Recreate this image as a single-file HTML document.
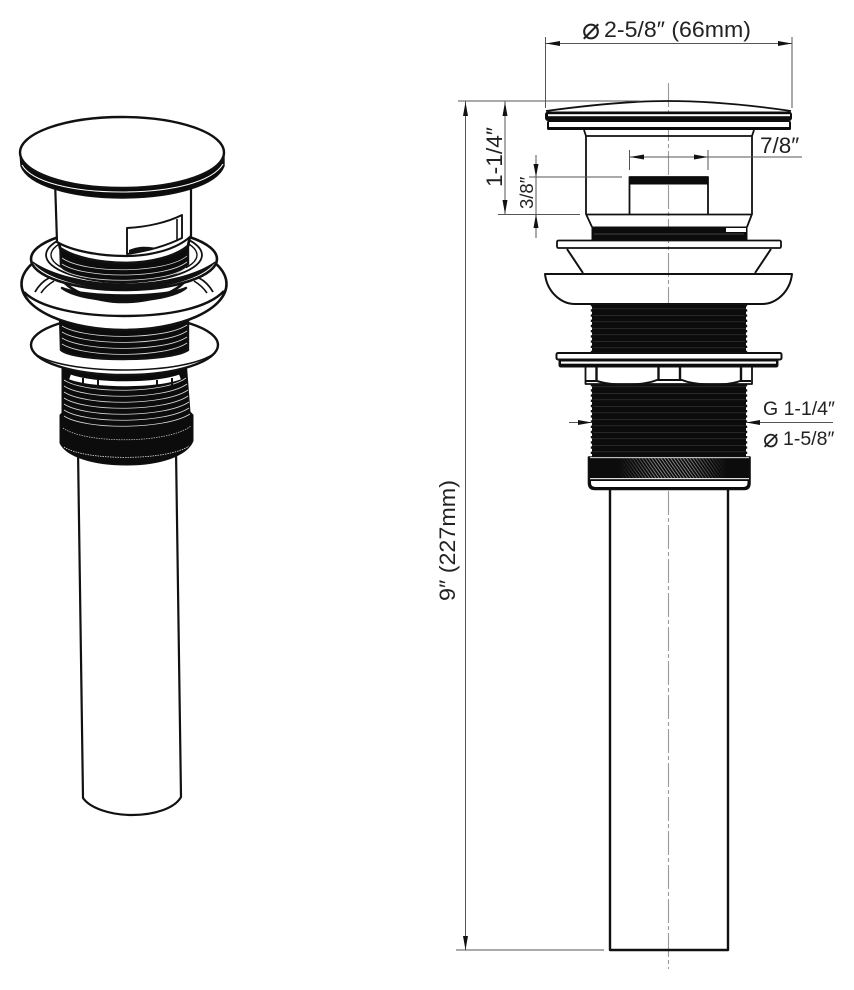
<!DOCTYPE html>
<html><head><meta charset="utf-8"><style>
html,body{margin:0;padding:0;background:#fff}
svg{display:block}
text{font-family:"Liberation Sans","DejaVu Sans",sans-serif;fill:#222}
</style></head><body>
<svg width="854" height="990" viewBox="0 0 854 990" xmlns="http://www.w3.org/2000/svg">
<defs>
<pattern id="thr" width="6" height="6.5" patternUnits="userSpaceOnUse"><rect width="6" height="6.5" fill="#0c0c0c"/><rect y="3" width="6" height=".6" fill="#3a3a3a"/></pattern>
<pattern id="kn" width="2.6" height="2.6" patternUnits="userSpaceOnUse" patternTransform="rotate(-35)"><rect width="2.6" height="2.6" fill="#0c0c0c"/><rect width=".9" height="2.6" fill="#8a8a8a"/></pattern>
<linearGradient id="kg" x1="0" x2="1" y1="0" y2="0"><stop offset="0" stop-color="#0c0c0c"/><stop offset=".18" stop-color="#0c0c0c"/><stop offset=".42" stop-color="#0c0c0c" stop-opacity="0"/><stop offset=".62" stop-color="#0c0c0c" stop-opacity="0"/><stop offset=".86" stop-color="#0c0c0c"/></linearGradient>
</defs>

<!-- LEFT ISOMETRIC -->
<g fill="#fff" stroke="#111" stroke-width="2.4" stroke-linejoin="round">
<path d="M78 450 L83 798 C90 808 110 815 132 815 C155 815 175 808 181 797 L176 450Z" stroke-width="2.2"/>
<path d="M62 360 V413 L60 415 V443 C66 456 92 465 126 465 C160 465 187 456 193 441 V415 L190 412 L186 360Z" fill="#0c0c0c" stroke-width="1"/>
<g fill="none" stroke="#d8d8d8" stroke-width=".8">
<path d="M64 380C85 394 165 394 186 378"/><path d="M64 386C85 400 165 400 187 384"/><path d="M64 392C85 406 165 406 188 390"/><path d="M64 398C85 412 165 412 188 396"/><path d="M64 404C85 418 165 418 189 402"/><path d="M64 410C85 424 165 424 189 408"/>
<path d="M64 416C85 430 165 430 190 414"/>
<path d="M63 428C85 444 168 444 191 426" stroke="#bbb" stroke-dasharray="1.5 1"/>
<path d="M64 447C85 461 168 461 189 446" stroke="#ddd" stroke-dasharray="1.5 1"/>
</g>
<path d="M70 377 C95 386 155 386 180 377" fill="none" stroke="#fff" stroke-width="5"/>
<path d="M83 378V385M98 380V387M157 380V387M172 378V385" stroke-width="2" fill="none"/>
<ellipse cx="124.500" cy="345" rx="93.500" ry="30"/>
<path d="M34 353 C48 364 85 370 124 370 C165 370 200 364 215 353" fill="none" stroke-width="1.600"/>
<path d="M60 315 L61 350 C75 362 170 362 188 350 L188 315Z" fill="#0c0c0c"/>
<g fill="none" stroke="#d8d8d8" stroke-width=".8"><path d="M62 326C85 340 165 340 187 325"/><path d="M62 332C85 346 165 346 187 331"/><path d="M62 338C85 352 165 352 187 337"/><path d="M62 344C85 358 165 358 187 343"/></g>
<ellipse cx="124" cy="284" rx="102.500" ry="46" stroke-width="2.600"/>
<path d="M24 292 C40 308 80 316 124 316 C170 316 208 308 224 291" fill="none" stroke-width="2.400"/>
<path d="M35 292 C39 285 43 281 49 278M213 292 C209 285 205 281 199 278" fill="none" stroke-width="1.800"/>
<path d="M41 293 C45 287 49 284 54 281M207 293 C203 287 199 284 194 281" fill="none" stroke-width="1.600"/>
<path d="M57 270 C62 290 95 302 124 302 C155 302 186 290 191 270Z" stroke-width="2.600"/>
<path d="M62 288C85 305 165 305 186 288 C165 298 85 298 62 288Z" fill="#111"/>
<ellipse cx="124" cy="259" rx="93" ry="31" stroke-width="2.600"/>
<path d="M33 262 C45 278 85 289 124 289 C165 289 203 278 215 262 C198 274 165 284 124 284 C85 284 50 274 33 262Z" fill="#111" stroke-width="1"/>
<ellipse cx="124" cy="255" rx="78" ry="27" stroke-width="1.800"/>
<ellipse cx="124" cy="255" rx="73" ry="24" fill="none" stroke-width="1.400"/>
<path d="M60 238 L61 266 C80 288 168 288 188 264 L188 238Z" fill="#0c0c0c"/>
<g fill="none" stroke="#d8d8d8" stroke-width=".8"><path d="M62 258C85 274 165 274 187 256"/><path d="M62 264C85 279 165 279 187 262"/><path d="M63 270C85 284 165 284 186 268"/></g>
<path d="M58 238 L60 248 C75 258 100 263 126 263 C150 263 175 257 188 246 L190 236Z" stroke-width="2.800"/>
<path d="M55 180 L57 242 C72 251 100 256 125 256 C150 256 176 250 191 236 L191 180Z" stroke-width="2.200"/>
<path d="M127 228 C148 227 168 222 182 215 V238 C168 245 148 251 127 254Z" stroke-width="1.900"/>
<path d="M177 219 V240" fill="none" stroke-width="1.600"/>
<path d="M129 250 C140 245 150 247 158 248 C148 251 138 253 129 254Z" fill="#111" stroke="none"/>
<path d="M20 153 L21 166 C28 185 70 198 122 198 C175 198 217 185 224 166 L224 153Z" fill="#0c0c0c" stroke-width="1.400"/>
<path d="M22 165 C32 182 72 192 122 192 C172 192 212 182 223 164" fill="none" stroke="#fff" stroke-width="1.100"/>
<ellipse cx="122" cy="152.500" rx="102" ry="35.500" stroke-width="2.400"/>
</g>

<!-- centre line -->
<path d="M668.500 83 V969" stroke="#999" stroke-width="1.100" stroke-dasharray="24 3 4 3" fill="none"/>

<!-- RIGHT ELEVATION -->
<g fill="none" stroke="#111" stroke-width="2" stroke-linejoin="round">
<path d="M610 489 V950 H728 V489" stroke-width="2.400"/>
<rect x="592" y="384" width="154" height="73" fill="url(#thr)" stroke="none"/>
<path d="M592 384 V457M746 384V457" stroke-dasharray="2.400 2.800" stroke-width="2.400"/>
<path d="M588.500 457 H750 V483 Q750 489.500 744 489.500 H595 Q588.500 489.500 588.500 483Z" fill="#0c0c0c" stroke-width="1.600"/>
<rect x="610" y="458" width="118" height="20" fill="url(#kn)" stroke="none"/>
<rect x="590" y="458" width="159" height="20" fill="url(#kg)" stroke="none"/>
<rect x="590" y="457" width="159" height="1.200" fill="#bbb" stroke="none"/>
<rect x="590" y="478" width="159" height="1.200" fill="#ddd" stroke="none"/>
<path d="M591 481 H747.500 V483 Q747.500 487 743 487 H596 Q591 487 591 483Z" fill="#fff" stroke="none"/>
<path d="M585.500 367 V384 H752 V367" fill="#fff" stroke-width="1.800"/>
<path d="M596.500 367 V382 M658.500 367 V381 M680 367 V381 M741 367 V382" stroke-width="2.400"/>
<path d="M586 381H597C612 386 642 386 657 380H682C697 386 727 386 740 381H751" stroke-width="2"/>
<rect x="592" y="304" width="154" height="50" fill="url(#thr)" stroke="none"/>
<path d="M592 304 V353M746 304V353" stroke-dasharray="2.400 2.800" stroke-width="2.400"/>
<path d="M559 359 H778 V365 Q778 367 776 367 H561 Q559 367 559 365Z" fill="#0c0c0c" stroke-width="1"/>
<rect x="561" y="361.500" width="215" height="2.200" fill="#fff" stroke="none"/>
<rect x="556.500" y="353" width="225" height="6.500" rx="1.500" fill="#fff" stroke-width="2"/>
<path d="M545 274 H792 C790 292 776 304 762 304 H575 C561 304 547 292 545 274Z" stroke-width="2"/>
<path d="M567 249 L583 273 M771 249 L755 273"/>
<path d="M592 227 H747 V240 H592Z" fill="#0c0c0c" stroke-width="1"/>
<path d="M726 228H746V232H726Z" fill="#fff" stroke="none"/>
<path d="M594 234H744" stroke="#555" stroke-width=".7"/>
<rect x="557" y="240.500" width="224" height="7.500" rx="1.500" stroke-width="1.800"/>
<path d="M586 136 V214 L592 227 M752 136 V214 L747 227" stroke-width="1.800"/>
<path d="M586 214.500H752" stroke-width="1.800"/>
<path d="M584 130 L586 136 H752 L754 130" stroke-width="1.800"/>
<path d="M629.500 214 V177 H708 V214" stroke-width="1.800"/>
<rect x="629" y="177" width="79.500" height="7.500" fill="#0c0c0c" stroke="none"/>
<path d="M546 111 C590 105 630 101 668 101 C710 101 750 105 791 111" stroke-width="1.800"/>
<rect x="545" y="111.500" width="247" height="9.500" rx="3" fill="#0c0c0c" stroke="none"/>
<rect x="548" y="114.200" width="242" height="2" fill="#fff" stroke="none"/>
<rect x="547" y="121" width="244" height="9" rx="1.500" fill="#0c0c0c" stroke="none"/>
<rect x="549" y="122" width="240" height="5" fill="#fff" stroke="none"/>
</g>

<!-- dimension lines -->
<g stroke="#555" stroke-width="1" fill="none">
<path d="M545.500 37 V108 M792 37 V108 M545.500 43.500 H792"/>
<path d="M458 101 H640"/>
<path d="M456 950 H604 M465.500 101 V950"/>
<path d="M505 101 V214 M498 214.500 H580"/>
<path d="M536 155 V238 M529 177 H622"/>
<path d="M629.500 150 V170 M708 150 V170 M630 157 H802"/>
<path d="M569 422.500 H592 M746 422.500 H833"/>
</g>
<g fill="#111" stroke="none">
<path d="M546 43.500 L560 41 V46Z"/><path d="M792 43.500 L778 41 V46Z"/>
<path d="M465.500 102 L463 116 H468Z"/><path d="M465.500 950 L463 936 H468Z"/>
<path d="M505 102 L502.500 116 H507.500Z"/><path d="M505 214 L502.500 200 H507.500Z"/>
<path d="M536 177 L533.500 164 H538.500Z"/><path d="M536 214 L533.500 228 H538.500Z"/>
<path d="M630 157 L644 154.500 V159.500Z"/><path d="M708 157 L694 154.500 V159.500Z"/>
<path d="M592 422.500 L578 420 V425Z"/><path d="M746 422.500 L760 420 V425Z"/>
</g>

<!-- text -->
<text x="582" y="39" font-size="30">⌀</text>
<text x="604" y="37" font-size="22" textLength="147" lengthAdjust="spacingAndGlyphs">2-5/8″ (66mm)</text>
<text x="760" y="153" font-size="22.500">7/8″</text>
<text x="763" y="415" font-size="19.500">G 1-1/4″</text>
<text x="763" y="447" font-size="26">⌀</text>
<text x="783" y="445" font-size="19.500">1-5/8″</text>
<text transform="translate(502 187) rotate(-90)" font-size="22" textLength="60" lengthAdjust="spacingAndGlyphs">1-1/4″</text>
<text transform="translate(533 209) rotate(-90)" font-size="18.500">3/8″</text>
<text transform="translate(455 601) rotate(-90)" font-size="22" textLength="121" lengthAdjust="spacingAndGlyphs">9″ (227mm)</text>
</svg>
</body></html>
